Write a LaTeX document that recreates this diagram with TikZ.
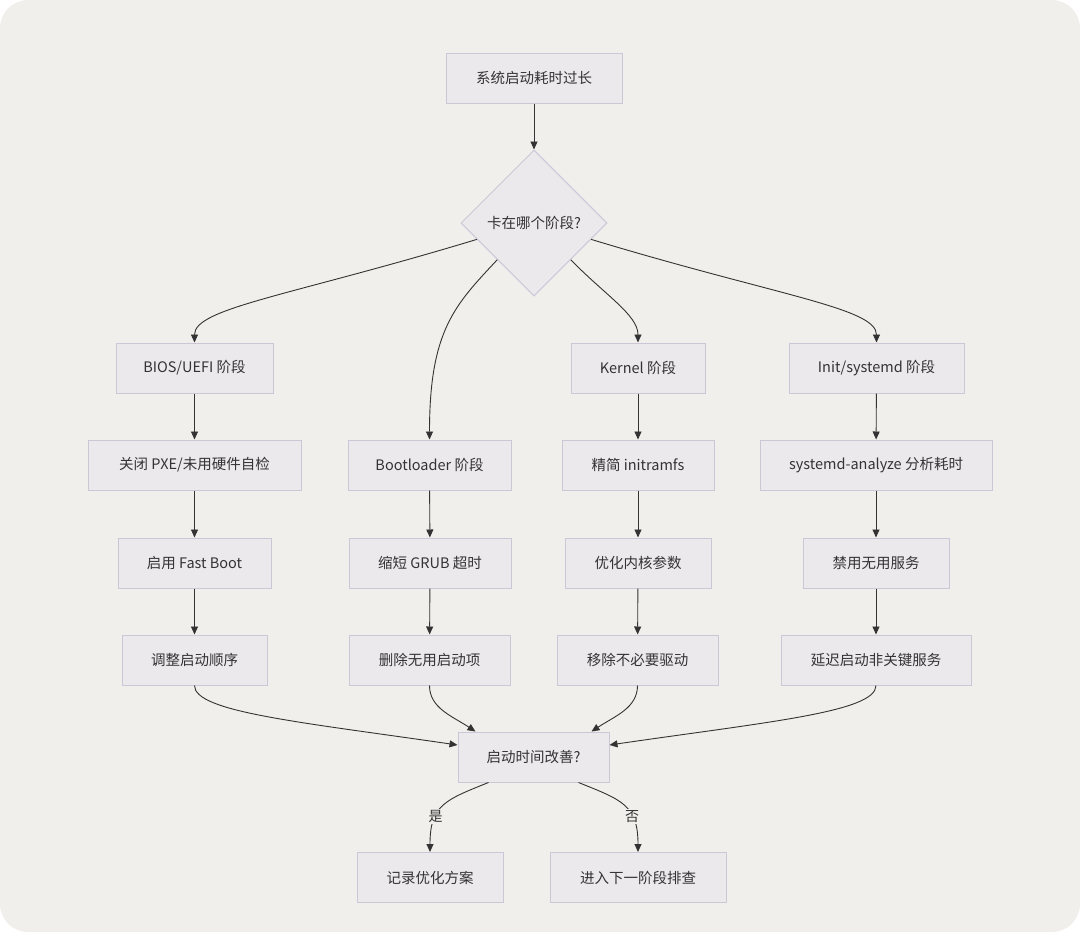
\documentclass[tikz,border=0pt]{standalone}
\usepackage{fontspec}
\setmainfont{Noto Sans CJK SC}
\usetikzlibrary{shapes.geometric,arrows.meta,calc}
\definecolor{bgc}{RGB}{241,239,235}
\definecolor{nodefill}{RGB}{236,233,237}
\definecolor{nodeline}{RGB}{204,198,214}
\definecolor{txt}{RGB}{51,51,51}
\definecolor{edge}{RGB}{51,51,51}
\tikzset{
  box/.style={draw=nodeline, fill=nodefill, line width=1pt, minimum height=50pt, inner sep=2pt, text=txt, font=\fontsize{14.5}{17}\selectfont},
  decide/.style={diamond, aspect=1, draw=nodeline, fill=nodefill, line width=1pt, minimum width=146pt, minimum height=146pt, inner sep=0pt, text=txt, font=\fontsize{14.5}{17}\selectfont},
  conn/.style={draw=edge, line width=0.9pt, -{Triangle[length=8pt,width=7pt]}},
  elabel/.style={fill=bgc, inner sep=1.5pt, text=txt, font=\fontsize{14}{16}\selectfont}
}
\begin{document}
\begin{tikzpicture}[x=1pt,y=-1pt]
\useasboundingbox (0,0) rectangle (1080,932);
\fill[white] (0,0) rectangle (1080,932);
\fill[bgc, rounded corners=28pt] (0,0) rectangle (1080,932);

\node[box, minimum width=176pt] (top) at (534,78) {系统启动耗时过长};
\node[decide] (d) at (534,223) {卡在哪个阶段?};

\node[box, minimum width=157pt] (bios) at (194.5,368) {BIOS/UEFI 阶段};
\node[box, minimum width=134pt] (kern) at (638,368) {Kernel 阶段};
\node[box, minimum width=175pt] (init) at (876.5,368) {Init/systemd 阶段};

\node[box, minimum width=213pt] (b1) at (194.5,465) {关闭 PXE/未用硬件自检};
\node[box, minimum width=163pt] (boot) at (429.5,465) {Bootloader 阶段};
\node[box, minimum width=152pt] (k1) at (638,465) {精简 initramfs};
\node[box, minimum width=232pt] (i1) at (876,465) {systemd-analyze 分析耗时};

\node[box, minimum width=153pt] (b2) at (194.5,563) {启用 Fast Boot};
\node[box, minimum width=162pt] (g1) at (430,563) {缩短 GRUB 超时};
\node[box, minimum width=146pt] (k2) at (638,563) {优化内核参数};
\node[box, minimum width=146pt] (i2) at (876,563) {禁用无用服务};

\node[box, minimum width=145pt] (b3) at (194.5,660) {调整启动顺序};
\node[box, minimum width=161pt] (g2) at (429.5,660) {删除无用启动项};
\node[box, minimum width=161pt] (k3) at (637.5,660) {移除不必要驱动};
\node[box, minimum width=190pt] (i3) at (876,660) {延迟启动非关键服务};

\node[box, minimum width=151pt] (imp) at (533.5,757) {启动时间改善?};
\node[box, minimum width=146pt] (rec) at (430,877.5) {记录优化方案};
\node[box, minimum width=176pt] (nxt) at (638,877.5) {进入下一阶段排查};

% top to diamond
\draw[conn] (top) -- (d.north);

% diamond to phases
\draw[conn] (d.196) .. controls (290,296) and (194.5,308) .. (bios.north);
\draw[conn] (d.south west) .. controls (455,305) and (429.5,330) .. (boot.north);
\draw[conn] (d.south east) .. controls (605,295) and (638,315) .. (kern.north);
\draw[conn] (d.-16) .. controls (778,296) and (876.5,308) .. (init.north);

% vertical chains
\draw[conn] (bios) -- (b1);
\draw[conn] (b1) -- (b2);
\draw[conn] (b2) -- (b3);
\draw[conn] (boot) -- (g1);
\draw[conn] (g1) -- (g2);
\draw[conn] (kern) -- (k1);
\draw[conn] (k1) -- (k2);
\draw[conn] (k2) -- (k3);
\draw[conn] (init) -- (i1);
\draw[conn] (i1) -- (i2);
\draw[conn] (i2) -- (i3);

% into improvement
\draw[conn] (b3.south) .. controls (194.5,712) and (300,722) .. ([yshift=12pt]imp.west);
\draw[conn] (g2.south) .. controls (429.5,708) and (452,716) .. ([xshift=-58pt]imp.north);
\draw[conn] (k3.south) .. controls (637.5,708) and (615,716) .. ([xshift=58pt]imp.north);
\draw[conn] (i3.south) .. controls (876,712) and (767,722) .. ([yshift=12pt]imp.east);

% results
\draw[conn] ([xshift=-45pt]imp.south) .. controls (445,800) and (430,805) .. node[elabel, pos=0.66] (yes) {是} (rec.north);
\draw[conn] ([xshift=45pt]imp.south) .. controls (622,800) and (638,805) .. node[elabel, pos=0.66] (no) {否} (nxt.north);
\end{tikzpicture}
\end{document}
